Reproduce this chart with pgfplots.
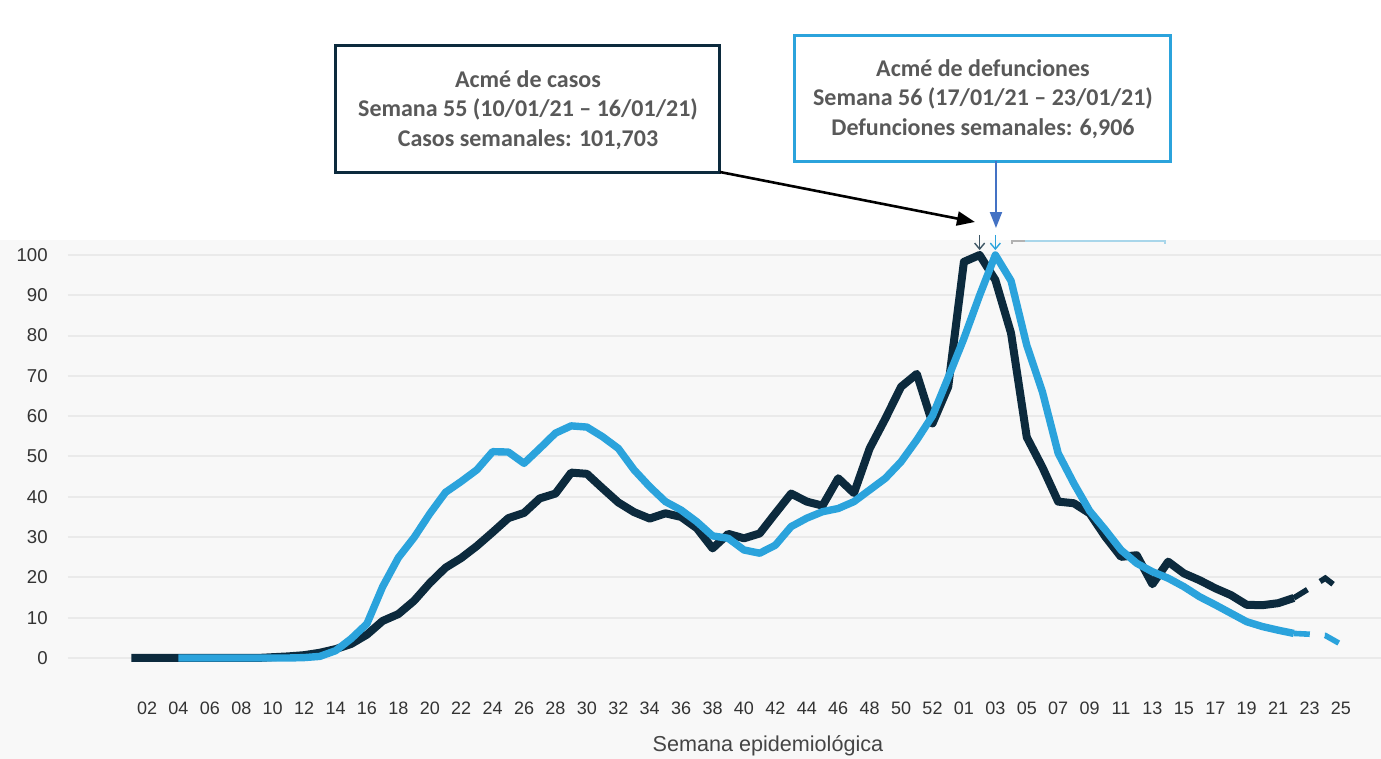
\documentclass[border=0pt]{standalone}
\usepackage{fontspec}
\setmainfont{Liberation Sans}
\newfontfamily\calibri{Carlito}
\usepackage{pgfplots}
\pgfplotsset{compat=1.18}
\usepackage{pgfplotstable}
\usetikzlibrary{arrows.meta}

\definecolor{casos}{HTML}{0C2A3D}
\definecolor{defun}{HTML}{2BA3DC}
\definecolor{bg}{HTML}{F8F8F8}
\definecolor{gridc}{HTML}{EAEAEA}
\definecolor{txt}{HTML}{333333}
\definecolor{xlab}{HTML}{454545}
\definecolor{boxtxt}{HTML}{595959}
\definecolor{arrowblue}{HTML}{4472C4}
\definecolor{faintblue}{HTML}{A9D6EA}

\pgfplotstableread{
n v
1 0
2 0
3 0
4 0
5 0
6 0
7 0
8 0
9 0
10 0.2
11 0.4
12 0.7
13 1.3
14 2.2
15 3.5
16 5.8
17 9.2
18 10.9
19 14.2
20 18.6
21 22.4
22 24.8
23 27.8
24 31.2
25 34.7
26 36
27 39.6
28 40.8
29 46
30 45.7
31 42.1
32 38.6
33 36.2
34 34.6
35 35.9
36 35
37 32.2
38 27.2
39 30.8
40 29.7
41 30.9
42 35.9
43 40.8
44 38.8
45 37.8
46 44.6
47 40.9
48 52
49 59.4
50 67.3
51 70.5
52 58.2
53 67.3
54 98.3
55 100
56 93.8
57 80.6
58 54.8
59 47.3
60 38.8
61 38.4
62 35.9
63 30.1
64 25.1
65 25.5
66 18.3
67 23.9
68 21
69 19.3
70 17.3
71 15.6
72 13.2
73 13.1
74 13.6
75 14.9
}\casos

\pgfplotstableread{
n v
75 14.9
76 17.3
77 19.8
78 16.8
}\casosdash

\pgfplotstableread{
n v
4 0
5 0
6 0
7 0
8 0
9 0
10 0
11 0
12 0.1
13 0.4
14 1.8
15 4.8
16 8.5
17 17.7
18 24.9
19 29.9
20 35.8
21 41.1
22 43.8
23 46.7
24 51.2
25 51.1
26 48.3
27 52
28 55.8
29 57.6
30 57.3
31 54.9
32 52
33 46.7
34 42.5
35 38.8
36 36.7
37 33.8
38 30.3
39 29.7
40 26.8
41 26
42 28
43 32.6
44 34.7
45 36.3
46 37.1
47 38.8
48 41.7
49 44.6
50 48.7
51 54.1
52 60.1
53 69.6
54 79.3
55 90
56 100
57 93.6
58 77.6
59 66
60 50.8
61 43.3
62 36.5
63 31.8
64 26.8
65 23.5
66 21.4
67 19.8
68 17.7
69 15.2
70 13.2
71 11.1
72 9
73 7.8
74 6.9
75 6.1
}\defun

\pgfplotstableread{
n v
75 6.1
76 5.9
77 5.6
78 3.4
}\defundash

\begin{document}
\begin{tikzpicture}
\path[use as bounding box] (0,0) rectangle (690.5bp,379.5bp);
\fill[white] (0,0) rectangle (690.5bp,379.5bp);
\fill[bg] (0,0) rectangle (690.5bp,259.5bp);

\begin{axis}[
  at={(34bp,39.5bp)}, anchor=south west,
  scale only axis, width=656.5bp, height=220bp,
  xmin=-3.03, xmax=80.55, ymin=-5.46, ymax=103.72,
  clip=false,
  axis line style={draw=none},
  major tick length=0pt,
  ytick={0,10,...,100},
  ymajorgrids, grid style={gridc, line width=1bp},
  xtick={2,4,...,78},
  xticklabels={02,04,06,08,10,12,14,16,18,20,22,24,26,28,30,32,34,36,38,40,42,44,46,48,50,52,01,03,05,07,09,11,13,15,17,19,21,23,25},
  /pgf/number format/assume math mode=true,
  yticklabel style={font=\fontsize{9.3bp}{11bp}\selectfont, color=txt, anchor=east, inner sep=0pt, xshift=-10bp},
  xticklabel style={font=\fontsize{9bp}{11bp}\selectfont, color=txt, anchor=north, inner sep=0pt, yshift=-11bp},
  xlabel={Semana epidemiológica},
  xlabel style={font=\fontsize{10.8bp}{13bp}\selectfont, color=xlab, at={(axis description cs:0.5331,-0.1636)}, anchor=base, inner sep=0pt},
]
\addplot[casos, line width=4bp, line join=round] table[x=n,y=v]{\casos};
\addplot[casos, line width=2.8bp, dash pattern=on 8bp off 7.5bp] table[x=n,y=v]{\casosdash};
\addplot[defun, line width=3.7bp, line join=round] table[x=n,y=v]{\defun};
\addplot[defun, line width=2.8bp, dash pattern=on 8bp off 7.5bp] table[x=n,y=v]{\defundash};
\draw[casos!80, line width=0.7bp, -{Straight Barb[length=3bp,width=5bp]}] (axis cs:55,105) -- (axis cs:55,101.2);
\draw[defun, line width=0.7bp, -{Straight Barb[length=3bp,width=5bp]}] (axis cs:56,105) -- (axis cs:56,101.2);
\end{axis}

\begin{scope}[x=0.5bp,y=0.5bp]
  \draw[gray!60, line width=0.6bp] (1012,515) -- (1012,518) -- (1025,518);
  \draw[faintblue, line width=0.8bp] (1025,518) -- (1165,518) -- (1165,515);
  \draw[casos, line width=1.5bp, fill=white] (336,714) rectangle (720,587);
  \node[align=center, text=boxtxt, font=\calibri\bfseries\fontsize{12bp}{14.8bp}\selectfont] at (528,649)
    {Acmé de casos\\Semana 55 (10/01/21 – 16/01/21)\\Casos semanales: 101,703};
  \draw[defun, line width=1.5bp, fill=white] (795,724) rectangle (1171,598);
  \node[align=center, text=boxtxt, font=\calibri\bfseries\fontsize{12bp}{14.8bp}\selectfont] at (983,660)
    {Acmé de defunciones\\Semana 56 (17/01/21 – 23/01/21)\\Defunciones semanales: 6,906};
  \draw[black, line width=1.3bp, -{Triangle[length=9bp,width=7bp]}] (720,587) -- (975,537);
  \draw[arrowblue, line width=1bp, -{Triangle[length=8bp,width=6bp]}] (996,598) -- (996,531);
\end{scope}
\end{tikzpicture}
\end{document}
